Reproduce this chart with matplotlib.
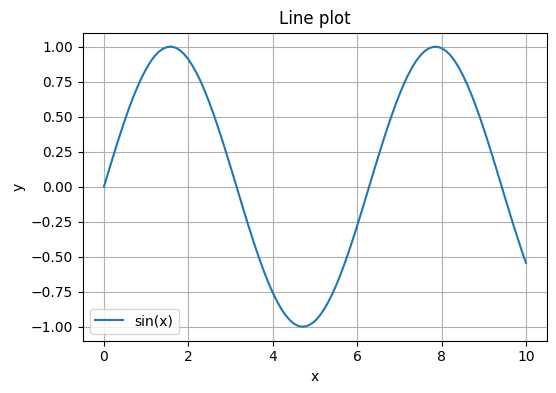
import matplotlib
matplotlib.use("Agg")
import matplotlib.pyplot as plt

x_values = [0.0, 0.1, 0.2, 0.3, 0.4, 0.5, 0.6, 0.7, 0.8, 0.9,
            1.0, 1.1, 1.2, 1.3, 1.4, 1.5, 1.6, 1.7, 1.8, 1.9,
            2.0, 2.1, 2.2, 2.3, 2.4, 2.5, 2.6, 2.7, 2.8, 2.9,
            3.0, 3.1, 3.2, 3.3, 3.4, 3.5, 3.6, 3.7, 3.8, 3.9,
            4.0, 4.1, 4.2, 4.3, 4.4, 4.5, 4.6, 4.7, 4.8, 4.9,
            5.0, 5.1, 5.2, 5.3, 5.4, 5.5, 5.6, 5.7, 5.8, 5.9,
            6.0, 6.1, 6.2, 6.3, 6.4, 6.5, 6.6, 6.7, 6.8, 6.9,
            7.0, 7.1, 7.2, 7.3, 7.4, 7.5, 7.6, 7.7, 7.8, 7.9,
            8.0, 8.1, 8.2, 8.3, 8.4, 8.5, 8.6, 8.7, 8.8, 8.9,
            9.0, 9.1, 9.2, 9.3, 9.4, 9.5, 9.6, 9.7, 9.8, 9.9,
            10.0]
y_values = [0.000, 0.100, 0.199, 0.296, 0.389, 0.479, 0.565, 0.644, 0.717, 0.783,
            0.841, 0.891, 0.932, 0.964, 0.985, 0.997, 1.000, 0.992, 0.974, 0.946,
            0.909, 0.863, 0.808, 0.746, 0.675, 0.598, 0.516, 0.427, 0.335, 0.239,
            0.141, 0.042, -0.058, -0.158, -0.256, -0.351, -0.443, -0.530, -0.612, -0.688,
            -0.757, -0.818, -0.872, -0.916, -0.952, -0.978, -0.994, -1.000, -0.996, -0.982,
            -0.959, -0.926, -0.883, -0.832, -0.773, -0.706, -0.631, -0.551, -0.465, -0.374,
            -0.279, -0.182, -0.083, 0.017, 0.117, 0.215, 0.312, 0.405, 0.494, 0.578,
            0.657, 0.729, 0.794, 0.851, 0.899, 0.938, 0.968, 0.988, 0.998, 0.999,
            0.989, 0.970, 0.941, 0.903, 0.855, 0.798, 0.734, 0.663, 0.585, 0.501,
            0.412, 0.319, 0.223, 0.124, 0.025, -0.075, -0.174, -0.272, -0.366, -0.458,
            -0.544]
series_label = "sin(x)"

fig = plt.figure(figsize=(5.56, 3.93), dpi=100)
ax = fig.add_axes([0.149, 0.133, 0.835, 0.784])
ax.plot(x_values, y_values, label=series_label, color="#1f77b4")
ax.set_title("Line plot")
ax.set_xlabel("x")
ax.set_ylabel("y")
ax.grid(True)
ax.legend(loc="lower left")
fig.savefig("out.png", dpi=100)
